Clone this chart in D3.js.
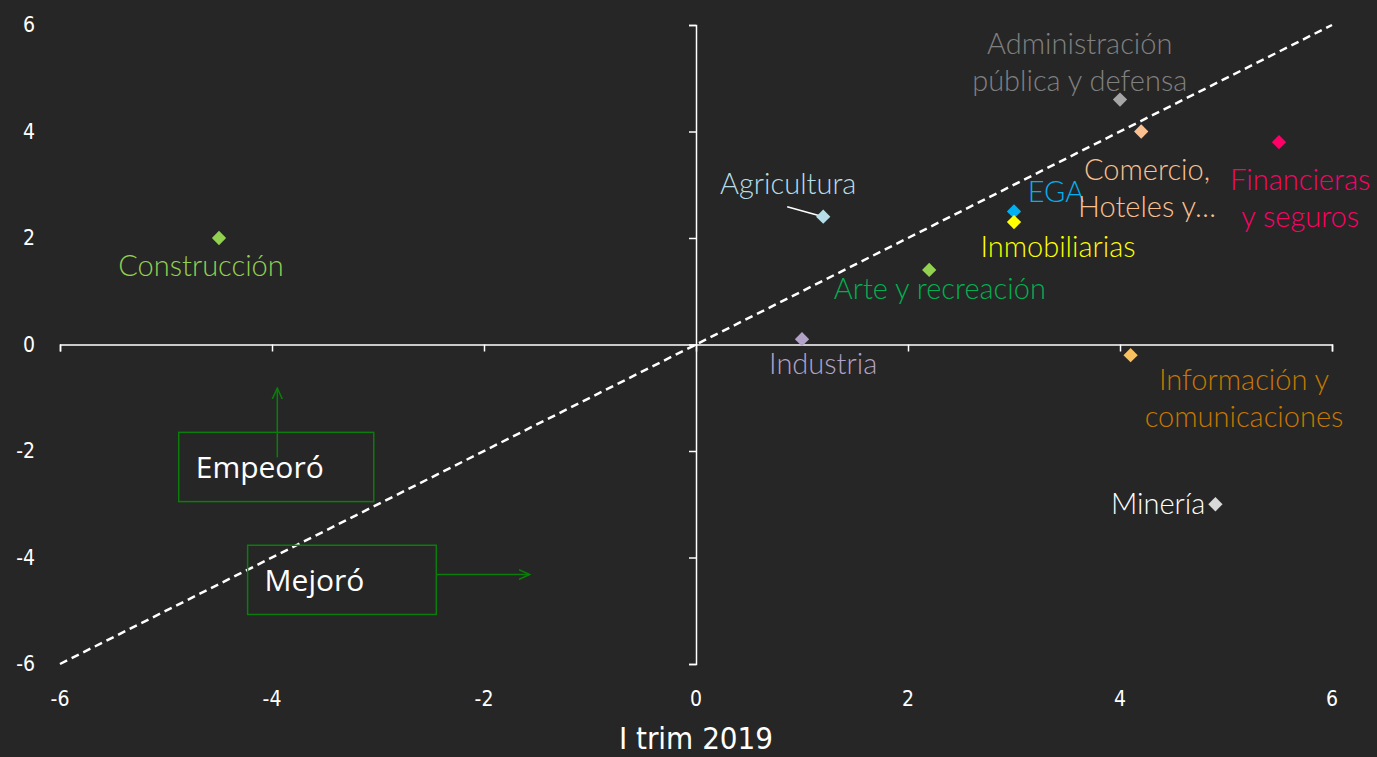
<!DOCTYPE html>
<html>
<head>
<meta charset="utf-8">
<script src="https://cdn.jsdelivr.net/npm/d3@7"></script>
<style>
  html, body { margin: 0; padding: 0; background: #262626; }
  svg { display: block; }
  .tick-label { font-family: "Liberation Sans Narrow", "DejaVu Sans Condensed", sans-serif; fill: #ffffff; }
  .pt-label { font-family: Lato, "Open Sans", sans-serif; font-weight: 300; }
</style>
</head>
<body>
<svg id="chart" width="1377" height="757"></svg>
<script>
// Sector names, their growth rates in the two periods, and colours
const sectors = ["Construcción", "Agricultura", "Arte y recreación", "Industria", "EGA",
  "Inmobiliarias", "Administración pública y defensa", "Comercio, Hoteles y…",
  "Financieras y seguros", "Información y comunicaciones", "Minería"];
const xValues = [-4.5, 1.2, 2.2, 1.0, 3.0, 3.0, 4.0, 4.2, 5.5, 4.1, 4.9];
const yValues = [2.0, 2.4, 1.4, 0.1, 2.5, 2.3, 4.6, 4.0, 3.8, -0.2, -3.0];
const markerColors = ["#92d050", "#b7dee8", "#92d050", "#b3a2c7", "#00b0f0",
  "#ffff00", "#a6a6a6", "#fac090", "#ff0066", "#fac060", "#d9d9d9"];
const labelColors = ["#92d050", "#b7dee8", "#00b050", "#b3a2c7", "#00b0f0",
  "#ffff00", "#808080", "#fac090", "#ff0066", "#c77800", "#ffffff"];
// Label lines and the first baseline's offset from the marker (in data units)
const labelLines = [["Construcción"], ["Agricultura"], ["Arte y recreación"], ["Industria"], ["EGA"],
  ["Inmobiliarias"], ["Administración", "pública y defensa"], ["Comercio,", "Hoteles y…"],
  ["Financieras", "y seguros"], ["Información y", "comunicaciones"], ["Minería"]];
const labelDx = [-0.17, -0.33, 0.1, 0.2, 0.13, 0.415, -0.38, 0.055, 0.2, 1.07, -0.54];
const labelDy = [-0.72, 0.42, -0.54, -0.645, 0.17, -0.65, 0.86, -0.92, -0.89, -0.66, -0.19];
const labelAnchor = ["middle", "middle", "middle", "middle", "start", "middle", "middle", "middle", "middle", "middle", "middle"];
const xTicks = [-6, -4, -2, 0, 2, 4, 6];
const yTicks = [-6, -4, -2, 0, 2, 4, 6];
const xTitle = "I trim 2019";

const svg = d3.select("#chart");
const x = d3.scaleLinear().domain([-6, 6]).range([60, 1332]);
const y = d3.scaleLinear().domain([-6, 6]).range([664, 25]);

// 45° reference line
svg.append("line")
  .attr("x1", x(-6)).attr("y1", y(-6)).attr("x2", x(6)).attr("y2", y(6))
  .attr("stroke", "#ffffff").attr("stroke-width", 2.5).attr("stroke-dasharray", "8,5");

// Axes crossing at the origin
const xAxis = svg.append("g").attr("transform", `translate(0,${y(0)})`)
  .call(d3.axisBottom(x).tickValues(xTicks).tickSize(7).tickFormat(""));
const yAxis = svg.append("g").attr("transform", `translate(${x(0)},0)`)
  .call(d3.axisLeft(y).tickValues(yTicks).tickSize(7).tickFormat(""));
[xAxis, yAxis].forEach(g => {
  g.selectAll("path").attr("stroke", "#ffffff").attr("stroke-width", 1.5);
  g.selectAll("line").attr("stroke", "#ffffff").attr("stroke-width", 1.5);
});

// Tick labels placed at the chart's outer edges
svg.append("g").selectAll("text").data(xTicks).join("text")
  .attr("class", "tick-label").attr("x", d => x(d)).attr("y", 706)
  .attr("text-anchor", "middle").attr("font-size", 21).text(d => d);
svg.append("g").selectAll("text").data(yTicks).join("text")
  .attr("class", "tick-label").attr("x", 35).attr("y", d => y(d) + 7)
  .attr("text-anchor", "end").attr("font-size", 21).text(d => d);
svg.append("text").attr("class", "tick-label")
  .attr("x", x(0)).attr("y", 749).attr("text-anchor", "middle")
  .attr("font-size", 31).text(xTitle);

// Leader line for Agricultura
svg.append("line")
  .attr("x1", x(1.2) - 36).attr("y1", y(2.4) - 10).attr("x2", x(1.2)).attr("y2", y(2.4))
  .attr("stroke", "#ffffff").attr("stroke-width", 1.5);

// Diamond markers
svg.append("g").selectAll("path").data(sectors).join("path")
  .attr("d", d3.symbol().type(d3.symbolDiamond2).size(130))
  .attr("transform", (d, i) => `translate(${x(xValues[i])},${y(yValues[i])})`)
  .attr("fill", (d, i) => markerColors[i]);

// Point labels
const labels = svg.append("g").selectAll("text").data(sectors).join("text")
  .attr("class", "pt-label")
  .attr("x", (d, i) => x(xValues[i] + labelDx[i]))
  .attr("y", (d, i) => y(yValues[i] + labelDy[i]))
  .attr("text-anchor", (d, i) => labelAnchor[i])
  .attr("font-size", 29)
  .attr("fill", (d, i) => labelColors[i]);
labels.each(function(d, i) {
  d3.select(this).selectAll("tspan").data(labelLines[i]).join("tspan")
    .attr("x", x(xValues[i] + labelDx[i]))
    .attr("dy", (t, j) => j === 0 ? 0 : 37)
    .text(t => t);
});

// Annotation boxes with arrows
const green = "#0a7d0a";
svg.append("defs").append("marker")
  .attr("id", "arrow").attr("viewBox", "0 0 12 12").attr("refX", 11).attr("refY", 6)
  .attr("markerWidth", 12).attr("markerHeight", 12).attr("markerUnits", "userSpaceOnUse")
  .attr("orient", "auto")
  .append("path").attr("d", "M0,1 L11,6 L0,11").attr("fill", "none")
  .attr("stroke", green).attr("stroke-width", 1.5);

const boxes = [
  { text: "Empeoró", x0: -4.88, x1: -3.04, y0: -1.65, y1: -2.95 },
  { text: "Mejoró", x0: -4.23, x1: -2.45, y0: -3.77, y1: -5.07 }
];
boxes.forEach(b => {
  svg.append("rect")
    .attr("x", x(b.x0)).attr("y", y(b.y0))
    .attr("width", x(b.x1) - x(b.x0)).attr("height", y(b.y1) - y(b.y0))
    .attr("fill", "none").attr("stroke", green).attr("stroke-width", 1.5);
  svg.append("text")
    .attr("x", x(b.x0) + 17).attr("y", y((b.y0 + b.y1) / 2) + 11)
    .attr("font-family", "'Open Sans', sans-serif").attr("font-size", 30)
    .attr("fill", "#ffffff").text(b.text);
});
svg.append("line")
  .attr("x1", x(-3.95)).attr("y1", y(-2.12)).attr("x2", x(-3.95)).attr("y2", y(-0.82))
  .attr("stroke", green).attr("stroke-width", 1.5).attr("marker-end", "url(#arrow)");
svg.append("line")
  .attr("x1", x(-2.45)).attr("y1", y(-4.32)).attr("x2", x(-1.57)).attr("y2", y(-4.32))
  .attr("stroke", green).attr("stroke-width", 1.5).attr("marker-end", "url(#arrow)");
</script>
</body>
</html>
